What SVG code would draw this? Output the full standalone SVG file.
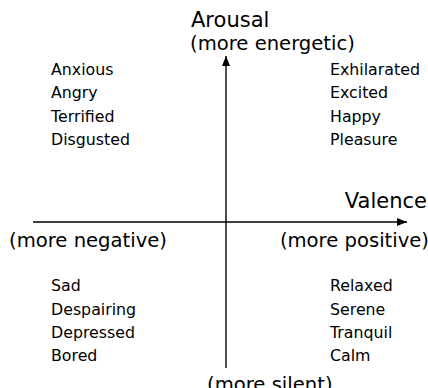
<svg xmlns="http://www.w3.org/2000/svg" width="428" height="388" viewBox="0 0 428 388">
<style>
text{font-family:"DejaVu Sans","Liberation Sans",sans-serif;fill:#000}
.ax{font-size:21px}
.pl{font-size:19.6px}
.w{font-size:15.8px}
.line{stroke:#000;stroke-width:1.4;fill:none}
</style>
<defs>
<marker id="ah" viewBox="0 0 10 8" refX="10" refY="4" markerWidth="10" markerHeight="8" markerUnits="userSpaceOnUse" orient="auto">
<path d="M0,0 L10,4 L0,8 Z" fill="#000"/>
</marker>
</defs>
<rect width="428" height="388" fill="#fff"/>
<g id="connectors">
<line class="line" x1="33" y1="222" x2="407" y2="222" marker-end="url(#ah)"/>
<line class="line" x1="226" y1="368" x2="226" y2="56" marker-end="url(#ah)"/>
</g>
<g id="arousal">
<text class="ax" x="191" y="27">Arousal</text>
<text class="pl" x="190" y="50">(more energetic)</text>
</g>
<g id="valence">
<text class="ax" x="427" y="208" text-anchor="end">Valence</text>
<text class="pl" x="429" y="247" text-anchor="end">(more positive)</text>
</g>
<g id="negative">
<text class="pl" x="9" y="247">(more negative)</text>
</g>
<g id="silent">
<text class="pl" x="207" y="391">(more silent)</text>
</g>
<g id="q2">
<text class="w" x="51" y="75">Anxious</text>
<text class="w" x="51" y="98.3">Angry</text>
<text class="w" x="51" y="121.7">Terrified</text>
<text class="w" x="51" y="145">Disgusted</text>
</g>
<g id="q1">
<text class="w" x="330" y="75">Exhilarated</text>
<text class="w" x="330" y="98.3">Excited</text>
<text class="w" x="330" y="121.7">Happy</text>
<text class="w" x="330" y="145">Pleasure</text>
</g>
<g id="q3">
<text class="w" x="51" y="291.3">Sad</text>
<text class="w" x="51" y="314.7">Despairing</text>
<text class="w" x="51" y="338">Depressed</text>
<text class="w" x="51" y="361.3">Bored</text>
</g>
<g id="q4">
<text class="w" x="330" y="291.3">Relaxed</text>
<text class="w" x="330" y="314.7">Serene</text>
<text class="w" x="330" y="338">Tranquil</text>
<text class="w" x="330" y="361.3">Calm</text>
</g>
</svg>
